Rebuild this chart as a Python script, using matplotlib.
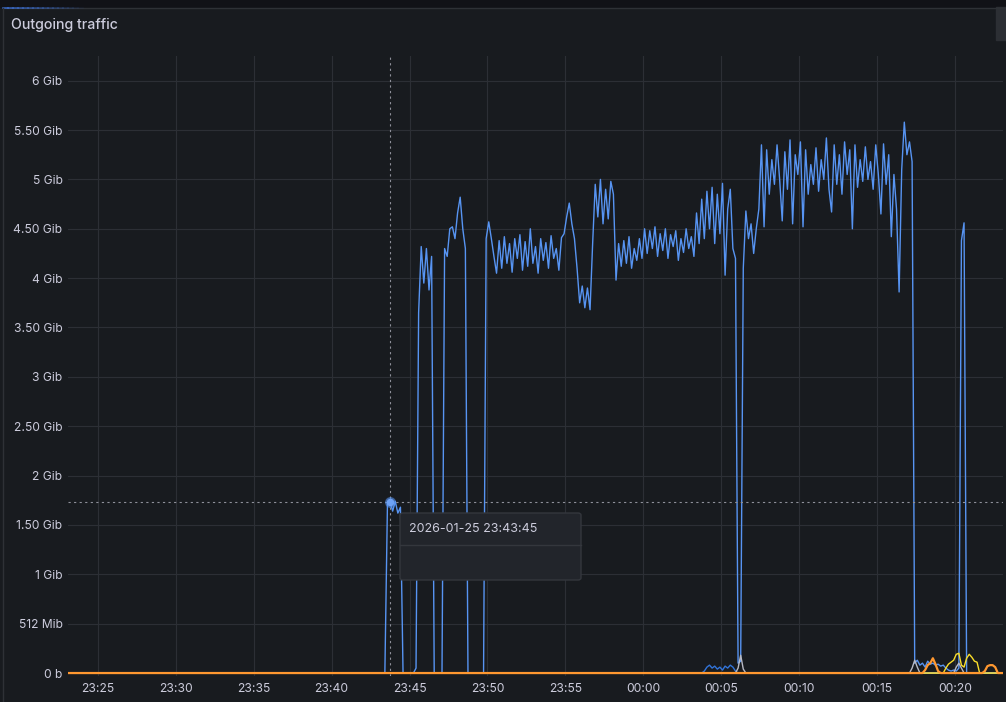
import numpy as np
import matplotlib
matplotlib.use("Agg")
import matplotlib.pyplot as plt
import matplotlib.dates as mdates
from matplotlib.patches import Rectangle, FancyBboxPatch
from matplotlib.lines import Line2D

plt.rcParams['font.family'] = ['Inter', 'DejaVu Sans']

# ---- data (Gib), 10 s samples ----
start = np.datetime64('2026-01-25T23:23:05')
step = np.timedelta64(10, 's')

# main blue series from 23:43:25 on
blue_values = (
    [0.0, 1.72, 1.73, 1.64, 1.74, 1.62, 1.68, 0.0]
    + [0.0, 0.0, 0.0, 0.0, 0.05, 3.65, 4.32, 3.95, 4.30, 3.88, 4.22, 0.0]
    + [0.0, 0.0, 0.0, 4.30, 4.22, 4.50, 4.52, 4.40, 4.66, 4.82, 4.50, 4.30, 0.0]
    + [0.0, 0.0, 0.0, 0.0, 0.0, 0.0, 4.40, 4.57, 4.40, 4.22]
    + [4.05, 4.38, 4.10, 4.42, 4.15, 4.35, 4.06, 4.40, 4.20, 4.44, 4.08, 4.37, 4.12,
       4.50, 4.15, 4.32, 4.05, 4.40, 4.18, 4.36, 4.10, 4.43, 4.20, 4.30, 4.08, 4.41]
    + [4.45, 4.62, 4.76, 4.55, 4.40, 4.10, 3.75, 3.92, 3.70, 3.90, 3.68]
    + [4.35, 4.95, 4.62, 5.00, 4.55, 4.90, 4.60, 4.98, 4.85, 3.98]
    + [4.35, 4.12, 4.38, 4.15, 4.42, 4.10, 4.30, 4.18, 4.40]
    + [4.20, 4.50, 4.25, 4.48, 4.30, 4.52, 4.22, 4.45, 4.28, 4.50, 4.20,
       4.44, 4.32, 4.48, 4.18, 4.40, 4.26, 4.50, 4.30, 4.42, 4.22]
    + [4.66, 4.35, 4.80, 4.40, 4.88, 4.50, 4.92, 4.35, 4.85, 4.45, 4.96,
       4.03, 4.70, 4.90, 4.30, 4.20, 0.10, 0.12]
    + [4.10, 4.68, 4.40, 4.55, 4.25, 4.50, 4.70, 5.35, 4.52]
    + [5.30, 4.85, 5.20, 4.95, 5.35, 5.00, 4.58, 5.28, 4.90, 5.40,
       4.55, 5.25, 5.05, 5.38, 4.52, 5.30, 4.85, 5.15, 4.95, 5.32,
       4.88, 5.20, 5.00, 5.42, 4.90, 4.67, 5.35, 4.95, 5.25, 4.85,
       5.38, 5.05, 5.30, 4.50, 5.35, 4.92, 5.20, 4.98, 5.33, 5.00,
       5.18, 4.90, 5.35, 5.05, 4.65, 5.36, 4.95, 5.25, 4.42]
    + [5.05, 4.70, 3.86, 5.10, 5.58, 5.25, 5.38, 5.18, 0.10]
    + [0.13, 0.08, 0.10, 0.06, 0.12, 0.09, 0.10, 0.08, 0.09, 0.07, 0.08, 0.05,
       0.03, 0.02, 0.03, 0.02]
    + [0.05, 4.38, 4.56, 0.0]
    + [0.0] * 14
)
blue = [0.0] * 122 + blue_values

# small series near zero, from 00:03:25 on
dark_blue_tail = [0.0] * 3 + [0.02, 0.06, 0.08, 0.05, 0.07, 0.04, 0.06, 0.03, 0.07,
                              0.05, 0.08, 0.06, 0.02] + [0.0] * 103
gray_tail = ([0.0] * 16 + [0.05, 0.18, 0.04] + [0.0] * 64 + [0.05, 0.13, 0.06]
             + [0.0] * 14 + [0.06, 0.10, 0.05] + [0.0] * 16)
orange_tail = ([0.0] * 88 + [0.03, 0.08, 0.10, 0.15, 0.09, 0.02] + [0.0] * 17
               + [0.02, 0.07, 0.08, 0.08, 0.06] + [0.0] * 3)
yellow_tail = ([0.0] * 96 + [0.05, 0.09, 0.11, 0.13, 0.19, 0.20, 0.08, 0.06, 0.15,
                             0.19, 0.16, 0.12, 0.11] + [0.0] * 10)
dark_blue = [0.0] * 242 + dark_blue_tail
gray = [0.0] * 242 + gray_tail
orange = [0.0] * 242 + orange_tail
yellow = [0.0] * 242 + yellow_tail

ytick_vals = [0, 0.5, 1, 1.5, 2, 2.5, 3, 3.5, 4, 4.5, 5, 5.5, 6]
ytick_labels = ['0 b', '512 Mib', '1 Gib', '1.50 Gib', '2 Gib', '2.50 Gib', '3 Gib',
                '3.50 Gib', '4 Gib', '4.50 Gib', '5 Gib', '5.50 Gib', '6 Gib']

hover_time = np.datetime64('2026-01-25T23:43:45')
hover_value = 1.73
hover_text = '2026-01-25 23:43:45'

t = start + np.arange(len(blue)) * step
t = t.astype('datetime64[ms]').astype(object)

# ---- figure ----
W, H = 1006, 702
bg = '#181b1f'
txt = '#ccccdc'
fig = plt.figure(figsize=(W / 100, H / 100), dpi=100, facecolor=bg)


def fx(x):
    return x / W


def fy(y):
    return (H - y) / H


# panel chrome
fig.add_artist(Rectangle((0, fy(7)), 1, 7 / H, transform=fig.transFigure,
                         color='#111217', zorder=0))
fig.add_artist(Line2D([fx(3), 1], [fy(7.5), fy(7.5)], transform=fig.transFigure,
                      color='#2e3136', lw=1))
# blue highlight fading out on the top edge
for k in range(16):
    fig.add_artist(Line2D([fx(3 + 5 * k), fx(8 + 5 * k)], [fy(7.5), fy(7.5)],
                          transform=fig.transFigure, color='#3d71d9',
                          alpha=0.8 * (1 - k / 16), lw=1.2))
fig.add_artist(Line2D([fx(3), fx(3)], [0, fy(7.5)], transform=fig.transFigure,
                      color='#2e3136', lw=1))
fig.add_artist(Rectangle((fx(996), fy(40)), 10 / W, 33 / H, transform=fig.transFigure,
                         color='#2c2f34', zorder=1))
fig.text(fx(11), fy(25), 'Outgoing traffic', color=txt, fontsize=10.2, fontweight=500,
         va='center', ha='left')

ax = fig.add_axes([fx(68), fy(676), (1003 - 68) / W, (676 - 56) / H])
ax.set_facecolor(bg)
for s in ax.spines.values():
    s.set_visible(False)

ax.plot(t, blue, color='#5794F2', lw=1.0, zorder=3)
ax.plot(t, dark_blue, color='#3274D9', lw=1.0, zorder=4)
ax.plot(t, gray, color='#b7b9c4', lw=1.0, zorder=4)
ax.plot(t, yellow, color='#FADE2A', lw=1.0, zorder=5)
ax.plot(t, orange, color='#FF9830', lw=1.6, zorder=6)

ax.set_xlim(t[0], t[-1])
ax.set_ylim(-0.03, 6.25)
ax.set_yticks(ytick_vals)
ax.set_yticklabels(ytick_labels)
ax.xaxis.set_major_locator(mdates.MinuteLocator(byminute=range(0, 60, 5)))
ax.xaxis.set_major_formatter(mdates.DateFormatter('%H:%M'))
ax.tick_params(length=0, colors=txt, labelsize=8.7)
ax.tick_params(axis='x', pad=5)
ax.tick_params(axis='y', pad=4)
ax.grid(True, color='#2c2f35', lw=0.8)
ax.set_axisbelow(True)

# hover crosshair and point
ht = hover_time.astype('datetime64[ms]').astype(object)
ax.axvline(ht, color='#8e909a', lw=0.8, ls=(0, (2, 3)), zorder=7)
ax.axhline(hover_value, color='#8e909a', lw=0.8, ls=(0, (2, 3)), zorder=7)
ax.plot([ht], [hover_value], 'o', ms=7, color='#5794F2', alpha=0.45, zorder=8)
ax.plot([ht], [hover_value], 'o', ms=4.5, color='#6ea2f5', zorder=9)

# tooltip
tip = FancyBboxPatch((fx(400), fy(580)), 181 / W, 67 / H, transform=fig.transFigure,
                     boxstyle='round,pad=0,rounding_size=0.003', facecolor='#22252b',
                     edgecolor='#34373d', lw=1, zorder=10)
fig.add_artist(tip)
fig.add_artist(Line2D([fx(400), fx(581)], [fy(545), fy(545)], transform=fig.transFigure,
                      color='#34373d', lw=1, zorder=11))
fig.text(fx(409), fy(529), hover_text, color=txt, fontsize=9, va='center', ha='left',
         zorder=12)

fig.savefig('out.png', dpi=100, facecolor=bg)
